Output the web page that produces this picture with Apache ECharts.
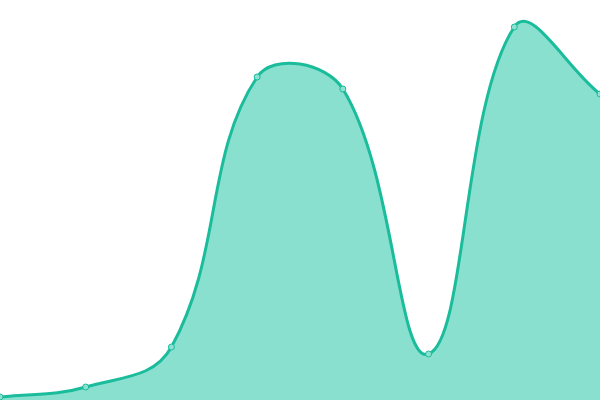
<!DOCTYPE html>
<html>
<head>
<meta charset="utf-8">
<style>
  html, body { margin: 0; padding: 0; background: #fff; }
  #main { width: 600px; height: 400px; }
</style>
<script src="https://cdn.jsdelivr.net/npm/echarts@6/dist/echarts.min.js"></script>
</head>
<body>
<div id="main"></div>
<script>
var categories = ['1', '2', '3', '4', '5', '6', '7', '8'];
var values = [3, 13, 53, 323, 311, 46, 373, 306];

var myChart = echarts.init(document.getElementById('main'));

// cardinal-style bezier through the points (lets the curve overshoot like the original)
function curvePath(pts, smooth) {
    var cps = [];
    for (var i = 0; i < pts.length; i++) {
        var p = pts[i];
        var prev = pts[Math.max(i - 1, 0)];
        var next = pts[Math.min(i + 1, pts.length - 1)];
        var vx = (next[0] - prev[0]) * smooth;
        var vy = (next[1] - prev[1]) * smooth;
        var d0 = Math.hypot(p[0] - prev[0], p[1] - prev[1]);
        var d1 = Math.hypot(p[0] - next[0], p[1] - next[1]);
        var sum = d0 + d1;
        if (sum) { d0 /= sum; d1 /= sum; }
        cps.push([[p[0] - vx * d0, p[1] - vy * d0], [p[0] + vx * d1, p[1] + vy * d1]]);
    }
    var d = 'M' + pts[0][0] + ',' + pts[0][1];
    for (var j = 1; j < pts.length; j++) {
        var a = cps[j - 1][1], b = cps[j][0], q = pts[j];
        d += ' C' + a[0] + ',' + a[1] + ' ' + b[0] + ',' + b[1] + ' ' + q[0] + ',' + q[1];
    }
    return d;
}

var option = {
    animation: false,
    grid: { left: 0, right: 0, top: 0, bottom: 0 },
    xAxis: {
        type: 'category',
        data: categories,
        boundaryGap: false,
        show: false
    },
    yAxis: {
        type: 'value',
        min: 0,
        max: 400,
        show: false
    },
    series: [{
        type: 'custom',
        data: values,
        renderItem: function (params, api) {
            if (params.dataIndex !== 0) return;
            var pts = values.map(function (v, i) { return api.coord([i, v]); });
            var base = api.coord([0, 0])[1];
            var line = curvePath(pts, 0.4);
            var area = line + ' L' + pts[pts.length - 1][0] + ',' + base + ' L' + pts[0][0] + ',' + base + ' Z';
            return {
                type: 'group',
                children: [{
                    type: 'path',
                    shape: { pathData: area },
                    style: { fill: '#8ae0cf', stroke: null }
                }, {
                    type: 'path',
                    shape: { pathData: line },
                    style: { fill: null, stroke: '#1abc9c', lineWidth: 3 }
                }]
            };
        }
    }, {
        type: 'scatter',
        data: values,
        symbol: 'circle',
        symbolSize: 6,
        itemStyle: { color: '#8ee0d0', borderColor: '#1abc9c', borderWidth: 1, opacity: 1 }
    }]
};
myChart.setOption(option);
</script>
</body>
</html>
